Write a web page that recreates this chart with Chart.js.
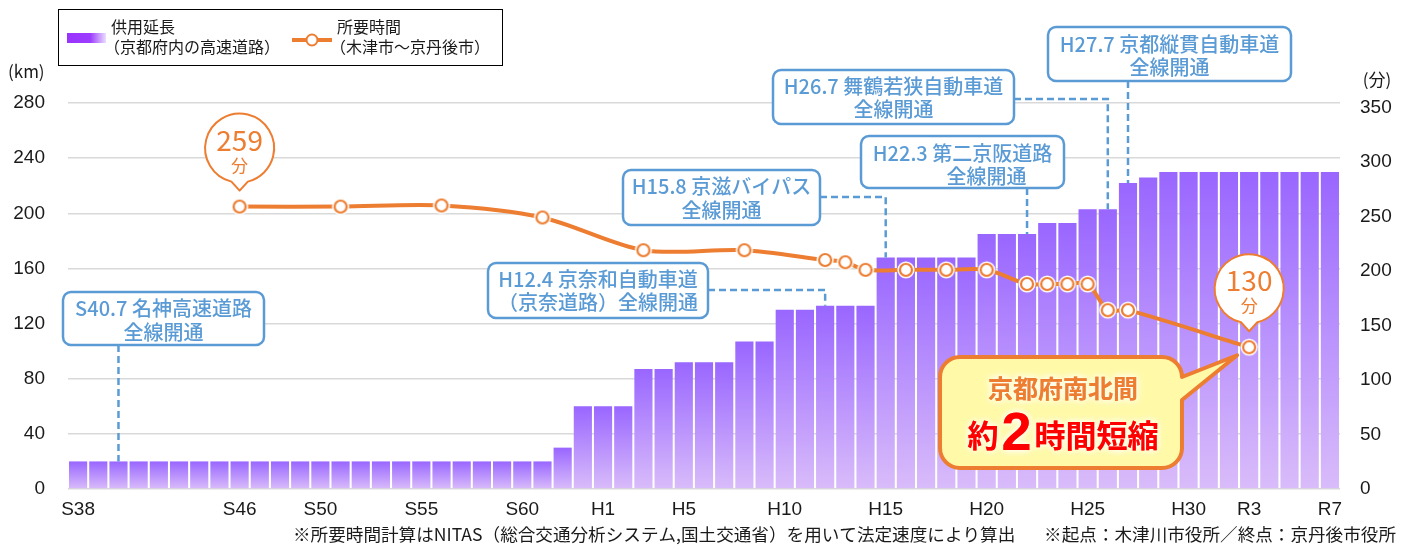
<!DOCTYPE html>
<html><head><meta charset="utf-8">
<script src="https://cdn.jsdelivr.net/npm/chart.js@4/dist/chart.umd.min.js"></script>
<style>html,body{margin:0;padding:0;background:#fff;}#wrap{position:relative;width:1415px;height:547px;}</style>
</head><body><div id="wrap"><canvas id="c" width="1415" height="547"></canvas></div>
<script>
const FONT_JP = '"Noto Sans CJK JP", "Noto Sans", sans-serif';
const FONT_NUM = '"Liberation Sans", Arial, sans-serif';

// ---- data ----
const categories = [
 'S38','S39','S40','S41','S42','S43','S44','S45','S46','S47','S48','S49','S50','S51','S52','S53','S54','S55','S56','S57','S58','S59','S60','S61','S62','S63',
 'H1','H2','H3','H4','H5','H6','H7','H8','H9','H10','H11','H12','H13','H14','H15','H16','H17','H18','H19','H20','H21','H22','H23','H24','H25','H26','H27','H28','H29','H30',
 'R1','R2','R3','R4','R5','R6','R7'];
const lengthKm = [
 20,20,20,20,20,20,20,20,20,20,20,20,20,20,20,20,20,20,20,20,20,20,20,20,30,60,
 60,60,87,87,92,92,92,107,107,130,130,133,133,133,168,168,168,168,168,185,185,185,193,193,203,203,222,226,230,230,
 230,230,230,230,230,230,230];
const travelMinutes = [
 null,null,null,null,null,null,null,null,259,null,null,null,null,259,null,null,null,null,260,null,null,null,null,249,null,null,
 null,null,219,null,null,null,null,219,null,null,null,210,208,201,null,201,null,201,null,201,null,188,188,188,188,164,164,null,null,null,
 null,null,130,null,null,null,null];
const shownXTicks = ['S38','S46','S50','S55','S60','H1','H5','H10','H15','H20','H25','H30','R3','R7'];
const kmAxis = {max: 280, step: 40};
const minAxis = {max: 354, step: 50};

const legendTexts = [['供用延長','（京都府内の高速道路）'],['所要時間','（木津市～京丹後市）']];
const milestones = [
  {idx: 2,  lines: ['S40.7 名神高速道路', '全線開通']},
  {idx: 37, lines: ['H12.4 京奈和自動車道', '（京奈道路）全線開通']},
  {idx: 40, lines: ['H15.8 京滋バイパス', '全線開通']},
  {idx: 47, lines: ['H22.3 第二京阪道路', '全線開通']},
  {idx: 51, lines: ['H26.7 舞鶴若狭自動車道', '全線開通']},
  {idx: 52, lines: ['H27.7 京都縦貫自動車道', '全線開通']}
];
const bubbles = [{idx: 8, text: '259', unit: '分'}, {idx: 58, text: '130', unit: '分'}];
const callout = {idx: 58, line1: '京都府南北間', pre: '約', num: '2', post: '時間短縮'};
const notes = ['※所要時間計算はNITAS（総合交通分析システム,国土交通省）を用いて法定速度により算出', '※起点：木津川市役所／終点：京丹後市役所'];

// ---- layout (pixels for annotation boxes) ----
const noteLayout = [
  {box:[63,292,201,53], ly:[308,332], dx2:0, leader:'down'},
  {box:[488,263,220,55], ly:[279,302], dx2:0, leader:'elbow', ey:290},
  {box:[623,170,197,55], ly:[186,210], dx2:0, leader:'elbow', ey:197},
  {box:[861,136,203,52], ly:[153,176], dx2:24, leader:'down'},
  {box:[773,70,241,54], ly:[86,109], dx2:0, leader:'elbow', ey:99},
  {box:[1048,27,243,54], ly:[44,67], dx2:0, leader:'down'}
];

const ORANGE = '#ED7D31', BLUE = '#5B9BD5';

function barFill(ctx) {
  const chart = ctx.chart;
  if (ctx.type !== 'data' || !chart.chartArea || !chart.scales.y) return '#A678FA';
  const ys = chart.scales.y;
  const top = ys.getPixelForValue(ctx.raw);
  const base = ys.getPixelForValue(0);
  if (!isFinite(top) || !isFinite(base) || top >= base) return '#A678FA';
  const g = chart.ctx.createLinearGradient(0, top, 0, base);
  g.addColorStop(0, '#9966FF');
  g.addColorStop(1, '#D9BCFA');
  return g;
}

// point marker with white halo
const marker = document.createElement('canvas');
marker.width = 20; marker.height = 20;
(function(){
  const m = marker.getContext('2d');
  m.beginPath(); m.arc(10,10,8.6,0,Math.PI*2); m.fillStyle='#fff'; m.fill();
  m.beginPath(); m.arc(10,10,6,0,Math.PI*2); m.fillStyle='#fff'; m.fill();
  m.lineWidth=2.2; m.strokeStyle=ORANGE; m.stroke();
})();

function rrect(c, x, y, w, h, r) {
  c.beginPath();
  c.moveTo(x+r, y); c.lineTo(x+w-r, y); c.arcTo(x+w, y, x+w, y+r, r);
  c.lineTo(x+w, y+h-r); c.arcTo(x+w, y+h, x+w-r, y+h, r);
  c.lineTo(x+r, y+h); c.arcTo(x, y+h, x, y+h-r, r);
  c.lineTo(x, y+r); c.arcTo(x, y, x+r, y, r); c.closePath();
}

const decor = {
  id: 'decor',
  afterDraw(chart) {
    const c = chart.ctx;
    const xs = chart.scales.x, ys = chart.scales.y, y1 = chart.scales.y1;
    c.save();
    // axis titles
    c.fillStyle = '#1a1a1a'; c.textBaseline = 'middle';
    c.font = '17px ' + FONT_JP; c.textAlign = 'left';
    c.fillText('(km)', 8, 72);
    c.textAlign = 'center';
    c.fillText('(分)', 1377, 80);

    // legend
    c.strokeStyle = '#000'; c.lineWidth = 1;
    c.strokeRect(58.5, 9.5, 444, 56);
    const lg = c.createLinearGradient(67, 0, 106, 0);
    lg.addColorStop(0, '#9933FF'); lg.addColorStop(0.6, '#9D3DFF'); lg.addColorStop(1, '#EBDDFF');
    c.fillStyle = lg; c.fillRect(67, 33, 39, 10);
    c.strokeStyle = ORANGE; c.lineWidth = 4;
    c.beginPath(); c.moveTo(292, 40); c.lineTo(332, 40); c.stroke();
    c.beginPath(); c.arc(312, 40, 5.5, 0, Math.PI*2); c.fillStyle='#fff'; c.fill(); c.lineWidth=2; c.stroke();
    c.fillStyle = '#1a1a1a'; c.textAlign = 'left'; c.font = '16px ' + FONT_JP;
    c.fillText(legendTexts[0][0], 111, 27); c.fillText(legendTexts[0][1], 104, 47);
    c.fillText(legendTexts[1][0], 337, 27); c.fillText(legendTexts[1][1], 330, 47);

    // footnotes
    c.font = '17.6px ' + FONT_JP; c.fillStyle = '#1a1a1a';
    c.textAlign = 'left'; c.fillText(notes[0], 293, 534);
    c.textAlign = 'right'; c.fillText(notes[1], 1396, 534);

    // milestone boxes
    milestones.forEach((m, i) => {
      const L = noteLayout[i];
      const [bx, by, bw, bh] = L.box;
      const tx = xs.getPixelForValue(m.idx);
      const ty = ys.getPixelForValue(lengthKm[m.idx]);
      c.save();
      c.setLineDash([7, 4]); c.strokeStyle = BLUE; c.lineWidth = 2.5;
      c.beginPath();
      if (L.leader === 'down') { c.moveTo(tx, by + bh); c.lineTo(tx, ty); }
      else { c.moveTo(bx + bw, L.ey); c.lineTo(tx, L.ey); c.lineTo(tx, ty); }
      c.stroke();
      c.restore();
      rrect(c, bx, by, bw, bh, 8);
      c.fillStyle = '#fff'; c.fill();
      c.strokeStyle = BLUE; c.lineWidth = 2.5; c.stroke();
      c.fillStyle = BLUE; c.font = '500 20px ' + FONT_JP; c.textAlign = 'center'; c.textBaseline = 'middle';
      c.fillText(m.lines[0], bx + bw/2, L.ly[0]);
      c.fillText(m.lines[1], bx + bw/2 + L.dx2, L.ly[1]);
    });

    // big callout
    const px = xs.getPixelForValue(callout.idx), py = y1.getPixelForValue(travelMinutes[callout.idx]);
    const x = 940, y = 357, w = 242, h = 111, r = 20;
    const tipX = px - 12, tipY = py + 8;
    c.beginPath();
    c.moveTo(x+r, y); c.lineTo(x+w-r, y); c.arcTo(x+w, y, x+w, y+r, r);
    c.lineTo(tipX, tipY); c.lineTo(x+w, 400);
    c.lineTo(x+w, y+h-r); c.arcTo(x+w, y+h, x+w-r, y+h, r);
    c.lineTo(x+r, y+h); c.arcTo(x, y+h, x, y+h-r, r);
    c.lineTo(x, y+r); c.arcTo(x, y, x+r, y, r); c.closePath();
    c.fillStyle = '#FFF9A8'; c.fill();
    c.strokeStyle = ORANGE; c.lineWidth = 4; c.lineJoin = 'round'; c.stroke();
    c.textAlign = 'center'; c.textBaseline = 'middle';
    c.save();
    c.shadowColor = 'rgba(255,255,255,0.95)'; c.shadowBlur = 7;
    c.font = 'bold 25px ' + FONT_JP; c.fillStyle = ORANGE;
    c.fillText(callout.line1, 1063, 388); c.fillText(callout.line1, 1063, 388);
    const f1 = 'bold 31px ' + FONT_JP, f2 = 'bold 54px ' + FONT_NUM;
    c.font = f1; const w1 = c.measureText(callout.pre).width, w3 = c.measureText(callout.post).width;
    c.font = f2; const w2 = c.measureText(callout.num).width;
    const gap = 3; const total = w1 + w2 + w3 + gap*2;
    let sx = 1063 - total/2; const base = 450;
    c.textAlign = 'left'; c.textBaseline = 'alphabetic'; c.fillStyle = '#FF0000';
    for (let k = 0; k < 2; k++) {
      c.font = f1; c.fillText(callout.pre, sx, base - 3);
      c.font = f2; c.fillText(callout.num, sx + w1 + gap, base);
      c.font = f1; c.fillText(callout.post, sx + w1 + w2 + gap*2, base - 3);
    }
    c.restore();

    // bubbles
    bubbles.forEach(b => {
      const bx = xs.getPixelForValue(b.idx), pyy = y1.getPixelForValue(travelMinutes[b.idx]);
      const tip = pyy - 16, rr = 34.5, cy = tip - 8 - rr, hh = 0.24;
      c.beginPath();
      c.arc(bx, cy, rr, Math.PI/2 + hh, Math.PI/2 - hh + Math.PI*2);
      c.lineTo(bx, tip); c.closePath();
      c.fillStyle = '#fff'; c.fill();
      c.strokeStyle = ORANGE; c.lineWidth = 2; c.stroke();
      c.fillStyle = ORANGE; c.textAlign = 'center'; c.textBaseline = 'middle';
      c.font = '400 28px ' + FONT_JP; c.fillText(b.text, bx, cy - 8);
      c.font = '400 17px ' + FONT_JP; c.fillText(b.unit, bx, cy + 17);
    });
    c.restore();
  }
};

new Chart(document.getElementById('c'), {
  data: {
    labels: categories,
    datasets: [
      {type: 'line', label: '所要時間', data: travelMinutes, yAxisID: 'y1', order: 0,
       borderColor: ORANGE, borderWidth: 4, tension: 0.3, spanGaps: true,
       pointStyle: marker, pointRadius: 8, pointHoverRadius: 8},
      {type: 'bar', label: '供用延長', data: lengthKm, yAxisID: 'y', order: 1,
       backgroundColor: barFill, borderWidth: 0, barPercentage: 0.9, categoryPercentage: 1.0}
    ]
  },
  options: {
    responsive: false, animation: false, devicePixelRatio: 1,
    layout: {padding: {top: 103, bottom: 28, left: 0, right: 0}},
    plugins: {legend: {display: false}, tooltip: {enabled: false}},
    scales: {
      x: {type: 'category', offset: true, grid: {display: false}, border: {display: false},
          ticks: {autoSkip: false, maxRotation: 0, minRotation: 0, padding: 1, color: '#1a1a1a',
                  font: {size: 19, family: FONT_NUM},
                  callback: function(v, i) { const l = categories[i]; return shownXTicks.includes(l) ? l : ''; }},
          afterFit: s => { s.height = 30; }},
      y: {position: 'left', min: 0, max: kmAxis.max,
          ticks: {stepSize: kmAxis.step, padding: 23, color: '#1a1a1a', font: {size: 19, family: FONT_NUM}},
          grid: {color: '#D9D9D9', lineWidth: 1.5, drawTicks: false}, border: {display: false},
          afterFit: s => { s.width = 68; }},
      y1: {position: 'right', min: 0, max: minAxis.max,
          ticks: {stepSize: minAxis.step, includeBounds: false, padding: 20, color: '#1a1a1a', font: {size: 19, family: FONT_NUM}},
          grid: {display: false, drawTicks: false}, border: {display: false},
          afterFit: s => { s.width = 75; }}
    }
  },
  plugins: [decor]
});
</script></body></html>
